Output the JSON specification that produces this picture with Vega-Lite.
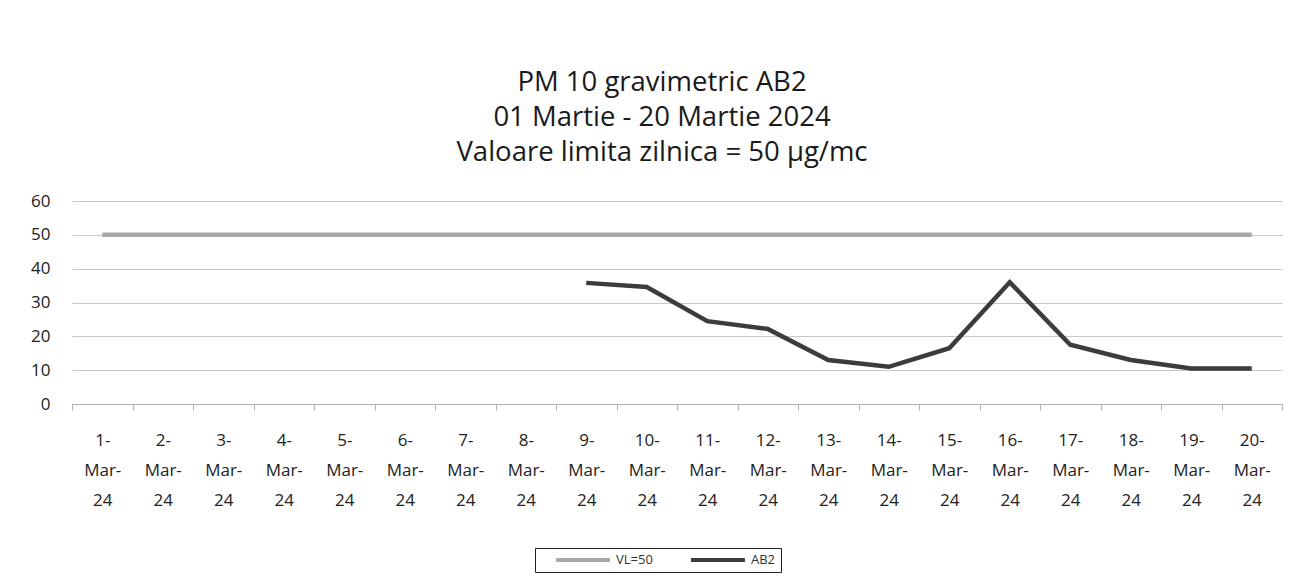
{
  "$schema": "https://vega.github.io/schema/vega-lite/v6.json",
  "autosize": "none",
  "width": 1210,
  "height": 203,
  "padding": {"left": 72, "top": 201, "right": 18, "bottom": 174},
  "background": "white",
  "title": {
    "text": ["PM 10 gravimetric AB2", "01 Martie - 20 Martie 2024", "Valoare limita zilnica = 50 µg/mc"],
    "anchor": "middle",
    "dx": -15,
    "offset": 26,
    "font": "Open Sans",
    "fontSize": 27.5,
    "fontWeight": 500,
    "lineHeight": 35,
    "color": "#1a1a1a"
  },
  "data": {
    "values": [
      {"date": "1-Mar-24", "series": "VL=50", "value": 50},
      {"date": "2-Mar-24", "series": "VL=50", "value": 50},
      {"date": "3-Mar-24", "series": "VL=50", "value": 50},
      {"date": "4-Mar-24", "series": "VL=50", "value": 50},
      {"date": "5-Mar-24", "series": "VL=50", "value": 50},
      {"date": "6-Mar-24", "series": "VL=50", "value": 50},
      {"date": "7-Mar-24", "series": "VL=50", "value": 50},
      {"date": "8-Mar-24", "series": "VL=50", "value": 50},
      {"date": "9-Mar-24", "series": "VL=50", "value": 50},
      {"date": "10-Mar-24", "series": "VL=50", "value": 50},
      {"date": "11-Mar-24", "series": "VL=50", "value": 50},
      {"date": "12-Mar-24", "series": "VL=50", "value": 50},
      {"date": "13-Mar-24", "series": "VL=50", "value": 50},
      {"date": "14-Mar-24", "series": "VL=50", "value": 50},
      {"date": "15-Mar-24", "series": "VL=50", "value": 50},
      {"date": "16-Mar-24", "series": "VL=50", "value": 50},
      {"date": "17-Mar-24", "series": "VL=50", "value": 50},
      {"date": "18-Mar-24", "series": "VL=50", "value": 50},
      {"date": "19-Mar-24", "series": "VL=50", "value": 50},
      {"date": "20-Mar-24", "series": "VL=50", "value": 50},
      {"date": "9-Mar-24", "series": "AB2", "value": 35.8},
      {"date": "10-Mar-24", "series": "AB2", "value": 34.6},
      {"date": "11-Mar-24", "series": "AB2", "value": 24.5},
      {"date": "12-Mar-24", "series": "AB2", "value": 22.2},
      {"date": "13-Mar-24", "series": "AB2", "value": 13},
      {"date": "14-Mar-24", "series": "AB2", "value": 11},
      {"date": "15-Mar-24", "series": "AB2", "value": 16.5},
      {"date": "16-Mar-24", "series": "AB2", "value": 36},
      {"date": "17-Mar-24", "series": "AB2", "value": 17.5},
      {"date": "18-Mar-24", "series": "AB2", "value": 13},
      {"date": "19-Mar-24", "series": "AB2", "value": 10.5},
      {"date": "20-Mar-24", "series": "AB2", "value": 10.5}
    ]
  },
  "mark": {"type": "line", "strokeWidth": 4.5},
  "encoding": {
    "x": {
      "field": "date",
      "type": "ordinal",
      "sort": null,
      "title": null,
      "scale": {"paddingInner": 0, "paddingOuter": 0, "align": 0.5},
      "axis": {
        "labelAngle": 0,
        "labelExpr": "datum.value ? [split(datum.value,'-')[0]+'-', split(datum.value,'-')[1]+'-', split(datum.value,'-')[2]] : ''",
        "labelLineHeight": 30,
        "labelFont": "Open Sans",
        "labelFontSize": 17,
        "labelColor": "#222",
        "labelPadding": 22,
        "domainColor": "#b0b0b0",
        "tickColor": "#b0b0b0",
        "tickBand": "extent",
        "tickSize": 6,
        "grid": false
      }
    },
    "y": {
      "field": "value",
      "type": "quantitative",
      "title": null,
      "scale": {"domain": [0, 60], "nice": false},
      "axis": {
        "values": [0, 10, 20, 30, 40, 50, 60],
        "domain": false,
        "ticks": false,
        "labelFont": "Open Sans",
        "labelFontSize": 17,
        "labelColor": "#222",
        "labelPadding": 22,
        "gridColor": "#c8c8c8",
        "gridWidth": 1.2
      }
    },
    "color": {
      "field": "series",
      "type": "nominal",
      "scale": {"domain": ["VL=50", "AB2"], "range": ["#a8a8a8", "#3c3c3c"]},
      "legend": {
        "title": null,
        "orient": "none",
        "direction": "horizontal",
        "legendX": 463,
        "legendY": 347,
        "symbolType": "stroke",
        "symbolSize": 2900,
        "symbolStrokeWidth": 4,
        "symbolOffset": 14,
        "clipHeight": 14,
        "labelFont": "Open Sans",
        "labelFontSize": 13,
        "labelOffset": 4,
        "labelColor": "#333",
        "strokeColor": "#222",
        "padding": 5,
        "columnPadding": 22,
        "fillColor": "white"
      }
    }
  },
  "config": {"view": {"stroke": null}}
}
